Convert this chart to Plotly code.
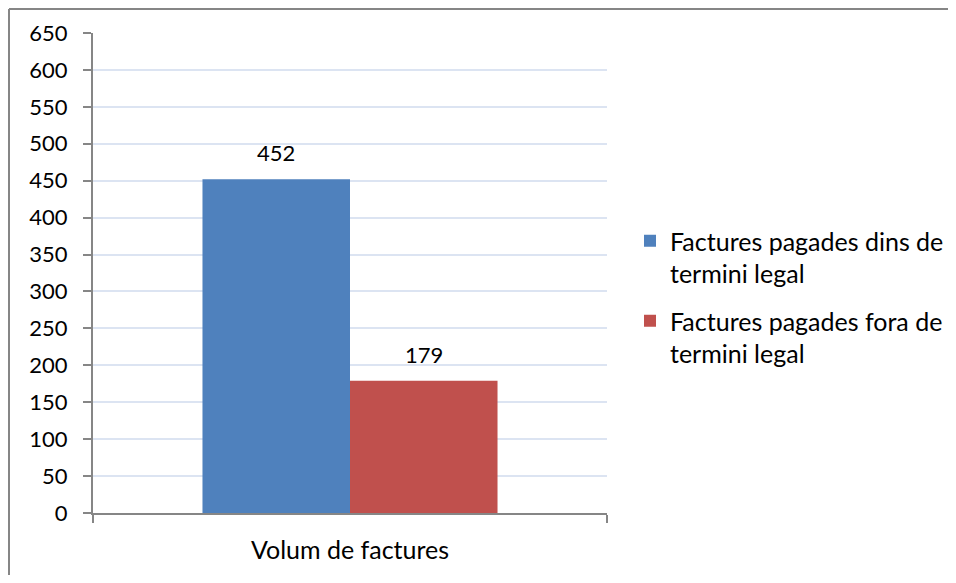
import plotly.graph_objects as go

categories = ["Volum de factures"]
series_names = ["Factures pagades dins de<br>termini legal", "Factures pagades fora de<br>termini legal"]
values_in = [452]
values_out = [179]
colors = ["#4F81BD", "#C0504D"]

FONT = "Lato"
W, H = 940, 567          # page body has an 8px margin on every side
ML, MT, PW, PH = 85, 25, 514, 480
MR, MB = W - ML - PW, H - MT - PH
BARGAP = 0.426
BAR_PX = PW * (1 - BARGAP) / 2   # width of one bar in pixels

fig = go.Figure()
series = [(series_names[0], values_in, colors[0], "g1"), (series_names[1], values_out, colors[1], "g2")]
for name, vals, col, grp in series:
    fig.add_trace(go.Bar(
        x=categories, y=vals, name=name, legendgroup=grp,
        marker=dict(color=col, line=dict(width=0)),
    ))

# value labels above each bar (positioned via data coordinates)
for i, (name, vals, col, grp) in enumerate(series):
    for cat, v in zip(categories, vals):
        fig.add_annotation(
            x=cat, y=v, xref="x", yref="y", text=str(v), showarrow=False,
            xanchor="center", yanchor="bottom",
            xshift=(i - 0.5) * BAR_PX, yshift=11,
            font=dict(family=FONT, size=22, color="#000000"),
        )

def px_x(p):
    return (p - ML) / PW

def px_y(p):
    return (H - MB - p) / PH

frame = dict(color="#868686", width=2)
fig.update_layout(
    width=W, height=H,
    margin=dict(l=ML, r=MR, t=MT, b=MB, pad=0, autoexpand=False),
    paper_bgcolor="white", plot_bgcolor="white",
    barmode="group", bargap=BARGAP, bargroupgap=0,
    font=dict(family=FONT, size=22, color="#000000"),
    showlegend=True,
    legend=dict(x=px_x(622), y=px_y(210), xanchor="left", yanchor="top",
                valign="top", traceorder="grouped", tracegroupgap=12, itemwidth=30,
                font=dict(family=FONT, size=25, color="#000000"),
                bgcolor="rgba(0,0,0,0)"),
    xaxis=dict(showline=True, linecolor="#868686", linewidth=2,
               ticks="outside", tickson="boundaries", ticklen=8, tickwidth=2, tickcolor="#868686",
               showgrid=False, ticklabelstandoff=14,
               tickfont=dict(family=FONT, size=25, color="#000000")),
    yaxis=dict(range=[0, 650], dtick=50, tick0=0, showline=True, linecolor="#868686", linewidth=2,
               ticks="outside", ticklen=8, tickwidth=2, tickcolor="#868686",
               showgrid=True, gridcolor="#DCE4F2", gridwidth=1.5, zeroline=False,
               ticklabelstandoff=11,
               tickfont=dict(family=FONT, size=22, color="#000000")),
    shapes=[
        dict(type="line", xref="paper", yref="paper",
             x0=px_x(1), x1=px_x(W + 40), y0=px_y(1), y1=px_y(1), line=frame, layer="below"),
        dict(type="line", xref="paper", yref="paper",
             x0=px_x(1), x1=px_x(1), y0=px_y(1), y1=px_y(H + 40), line=frame, layer="below"),
    ],
)

fig.write_html("out.html")
